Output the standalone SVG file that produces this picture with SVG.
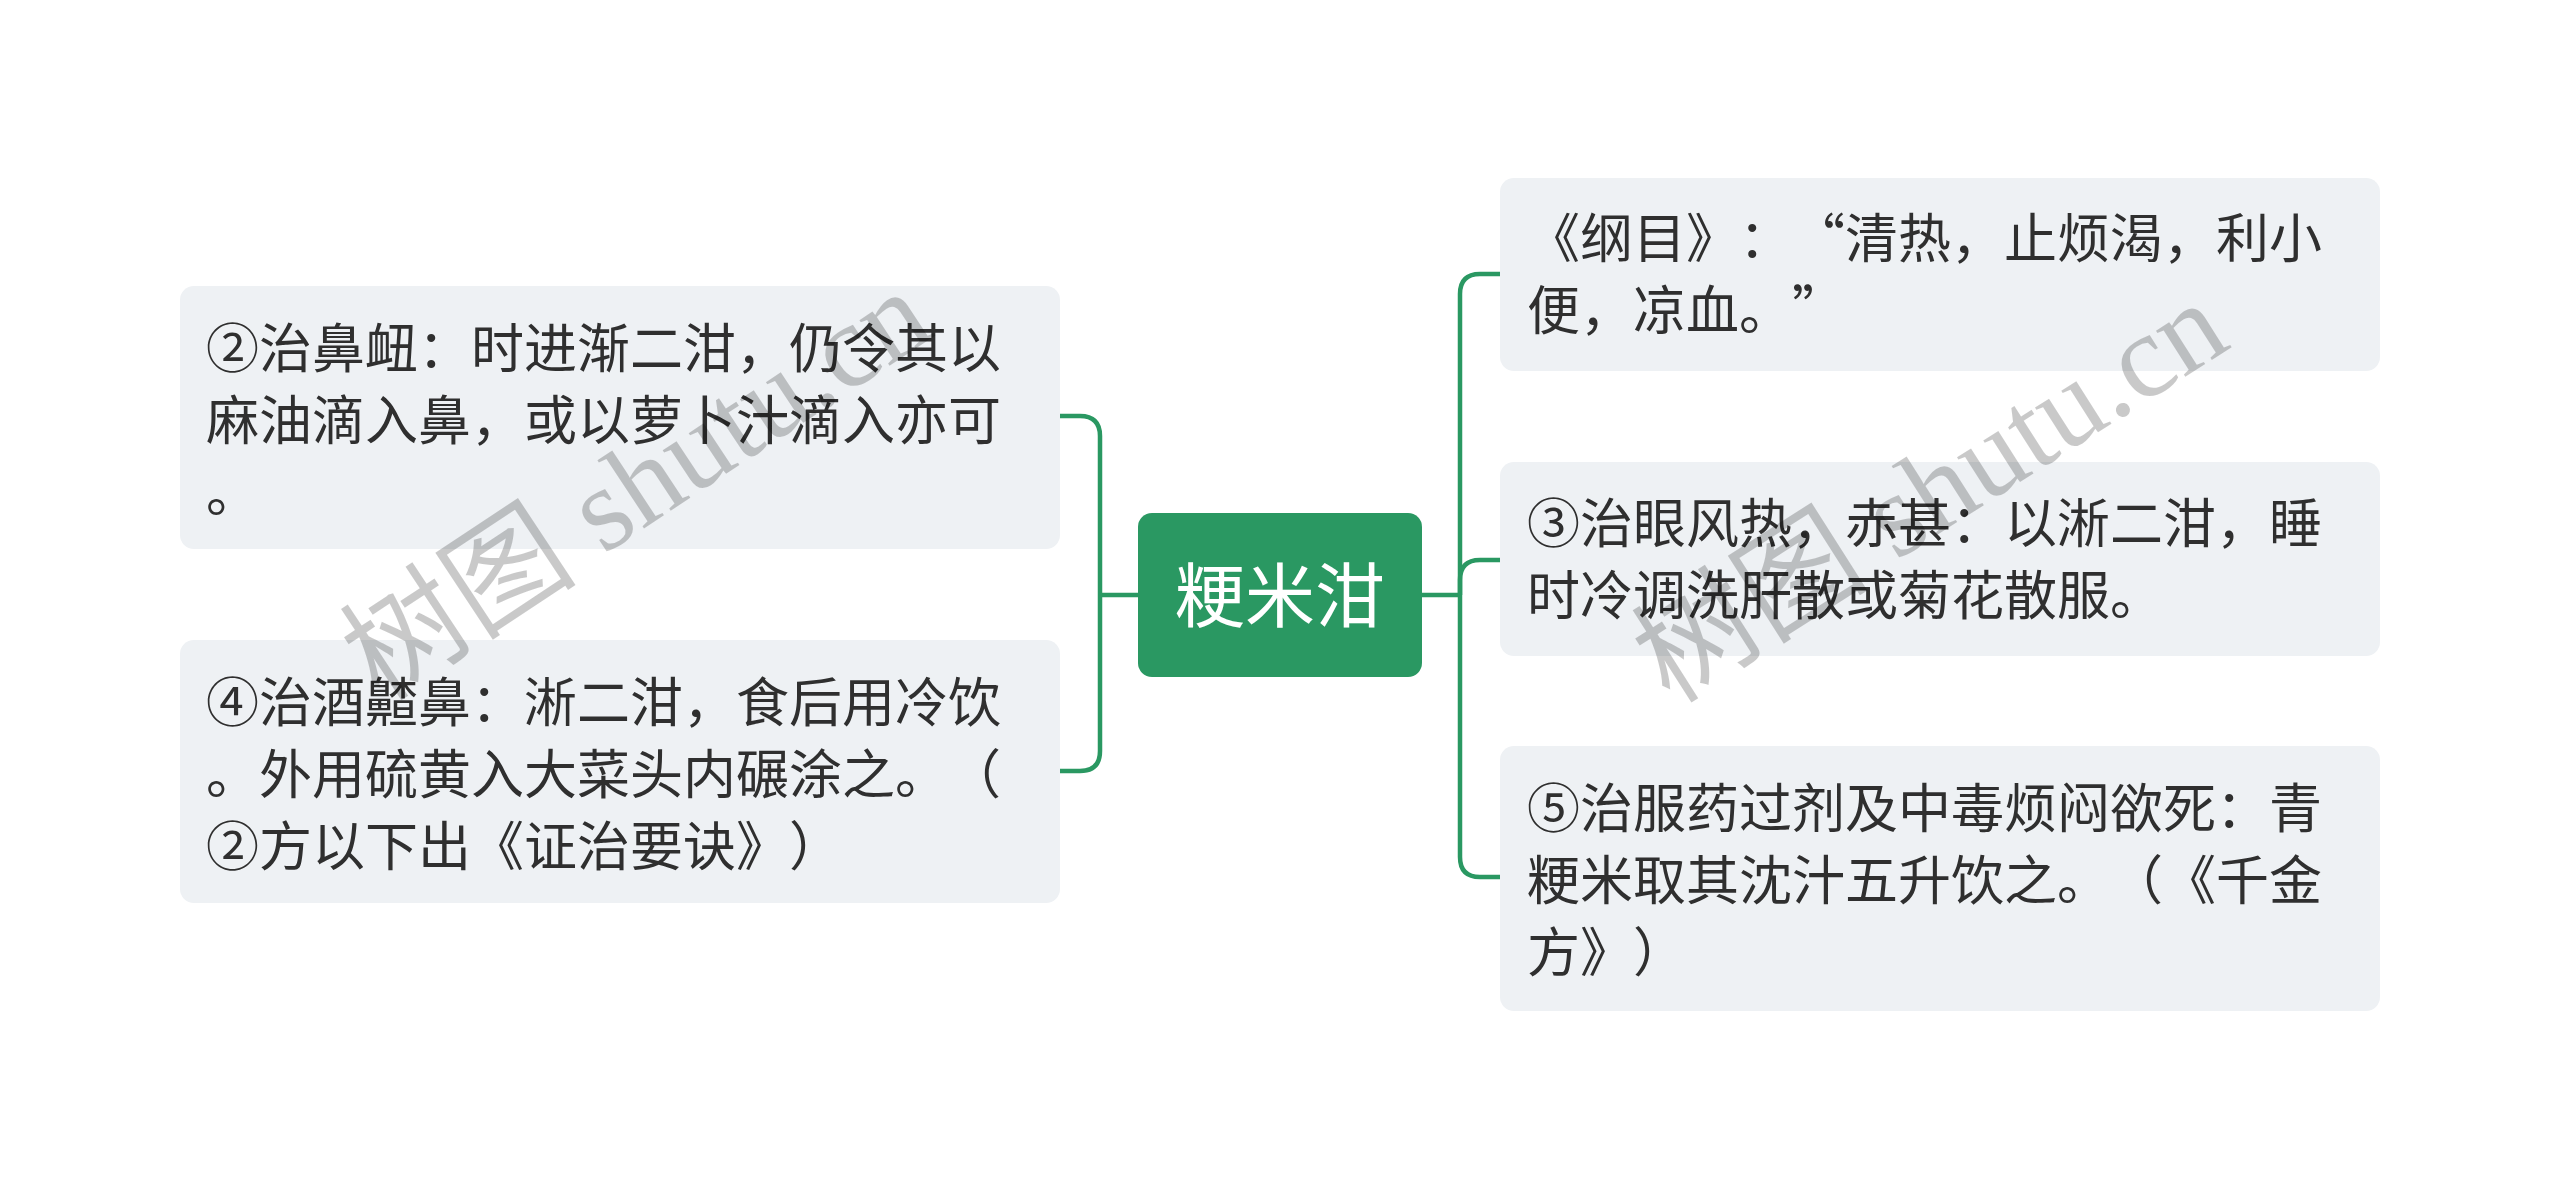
<svg xmlns="http://www.w3.org/2000/svg" width="2560" height="1191" viewBox="0 0 2560 1191">
<style>
.box{fill:#eef1f4}
.t{font-family:"Noto Sans CJK SC","Noto Sans",sans-serif;font-size:53px;fill:#2f2f2f;text-spacing-trim:space-all;font-feature-settings:"halt" 0,"chws" 0}
.root{fill:#2a9862}
.rt{font-family:"Noto Sans CJK SC","Noto Sans",sans-serif;font-size:70px;fill:#ffffff}
.c{fill:none;stroke:#2a9862;stroke-width:4.5}
.wm{font-family:"Liberation Serif","Noto Sans CJK SC",serif;font-size:119px;fill:#000;fill-opacity:0.21}
</style>
<rect width="2560" height="1191" fill="#ffffff"/>
<g id="connectors">
<path class="c" d="M1422 595 H1460"/>
<path class="c" d="M1460 595 V294 Q1460 274 1480 274 H1500"/>
<path class="c" d="M1460 595 V580 Q1460 560 1480 560 H1500"/>
<path class="c" d="M1460 595 V857 Q1460 877 1480 877 H1500"/>
<path class="c" d="M1138 595 H1100"/>
<path class="c" d="M1100 595 V436 Q1100 416 1080 416 H1060"/>
<path class="c" d="M1100 595 V751 Q1100 771 1080 771 H1060"/>
</g>
<g id="root">
<rect class="root" x="1138" y="513" width="284" height="164" rx="14"/>
<text class="rt" x="1280" y="622" text-anchor="middle">粳米泔</text>
</g>
<g id="node-left-1">
<rect class="box" x="180" y="286" width="880" height="263" rx="14"/>
<text class="t" x="206" y="368">②治鼻衄：时进渐二泔，仍令其以</text>
<text class="t" x="206" y="440">麻油滴入鼻，或以萝卜汁滴入亦可</text>
<text class="t" x="206" y="512">。</text>
</g>
<g id="node-left-2">
<rect class="box" x="180" y="640" width="880" height="263" rx="14"/>
<text class="t" x="206" y="722">④治酒齄鼻：淅二泔，食后用冷饮</text>
<text class="t" x="206" y="794">。外用硫黄入大菜头内碾涂之。（</text>
<text class="t" x="206" y="866">②方以下出《证治要诀》）</text>
</g>
<g id="node-right-1">
<rect class="box" x="1500" y="178" width="880" height="193" rx="14"/>
<text class="t" x="1527" y="258">《纲目》：“清热，止烦渴，利小</text>
<text class="t" x="1527" y="330">便，凉血。”</text>
</g>
<g id="node-right-2">
<rect class="box" x="1500" y="462" width="880" height="194" rx="14"/>
<text class="t" x="1527" y="543">③治眼风热，赤甚：以淅二泔，睡</text>
<text class="t" x="1527" y="615">时冷调洗肝散或菊花散服。</text>
</g>
<g id="node-right-3">
<rect class="box" x="1500" y="746" width="880" height="265" rx="14"/>
<text class="t" x="1527" y="828">⑤治服药过剂及中毒烦闷欲死：青</text>
<text class="t" x="1527" y="900">粳米取其沈汁五升饮之。（《千金</text>
<text class="t" x="1527" y="972">方》）</text>
</g>
<g id="watermarks">
<text class="wm" transform="translate(380 703) rotate(-33.5)">树图 shutu.cn</text>
<text class="wm" transform="translate(1670 705) rotate(-32.5)">树图 shutu.cn</text>
</g>
</svg>
